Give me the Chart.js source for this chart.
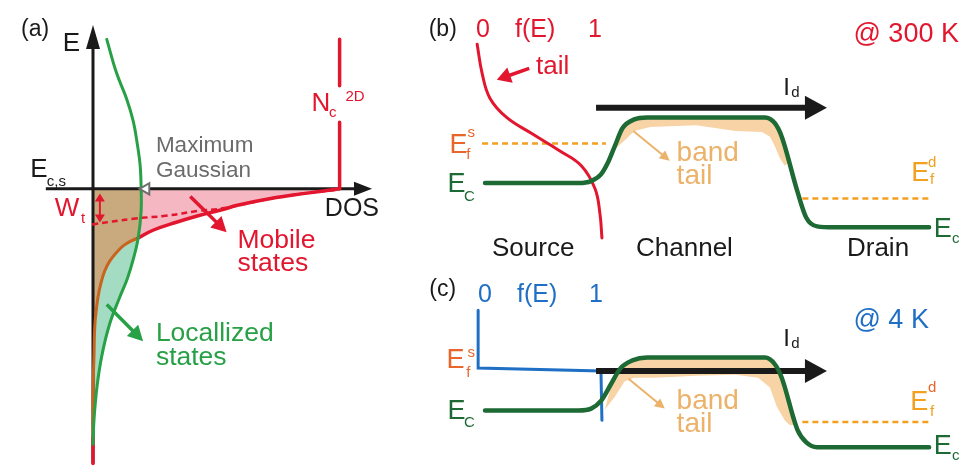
<!DOCTYPE html>
<html lang="en">
<head>
<meta charset="UTF-8">
<title>Band tail schematic</title>
<script src="https://cdn.jsdelivr.net/npm/chart.js"></script>
<style>
  html, body { margin: 0; padding: 0; background: #fff; overflow: hidden; }
  canvas { display: block; }
</style>
</head>
<body>
<canvas id="chart" width="972" height="474"></canvas>
<script>
// ---- panel (a): density of states ----
const gaussA = [[100,32],[110,67],[120,93],[127,117],[131,140],[134,163],[135,187],[135,210],[132,238],[127,260],[121,280],[113,300],[103,327],[95,360],[90,393],[87,427],[86,452]];
const mobileA = [[337,187],[300,192],[267,197],[233,204],[220,208],[193,215],[170,222],[147,230],[132,238]];
const tailOrangeA = [[132,238],[125,241],[117,246],[110,253],[103,262],[98,272],[94,285],[91,300],[88,327],[87,360],[86,400],[86,445]];
const tailRedA = [[86,445],[86,472]];
const wtLineA = [[85,224],[127,218],[160,215],[193,210],[220,207],[267,197],[300,192],[335,188]];
const ncTopA = [[337,32],[337,80]];
const ncBottomA = [[337,118],[337,187]];
const eAxisA = [[86,472],[86,17]];
const dosAxisA = [[38,187],[370,187]];
const maxGaussA = [[140,187]];
const pinkA = [[135,187],[337,187],[300,192],[267,197],[233,204],[220,208],[193,215],[170,222],[147,230],[132,238],[134,224],[135,210],[135,187]];
const tanA = [[86,187],[135,187],[135,210],[134,224],[132,238],[125,241],[117,246],[110,253],[103,262],[98,272],[94,285],[91,300],[88,327],[87,360],[86,400],[86,445],[86,187]];
const mintA = [[132,238],[125,241],[117,246],[110,253],[103,262],[98,272],[94,285],[91,300],[88,327],[87,360],[86,400],[86,445],[86,452],[87,427],[90,393],[95,360],[103,327],[113,300],[121,280],[127,260],[132,238]];

// ---- panel (b): 300 K ----
const fermiB = [[477,37],[482,67],[490,93],[507,113],[533,130],[560,147],[583,163],[597,187],[602,213],[604,238]];
const ecB = [[485,181],[580,181],[593,179],[603,172],[610,160],[617,143],[625,124],[637,115],[650,113],[770,113],[780,119],[787,133],[803,190],[812,217],[823,226],[840,227],[937,227]];
const efSourceB = [[482,140],[608,140]];
const efDrainB = [[808,197],[938,197]];
const bandTailB = [[615,148],[625,123],[637,115],[650,113],[770,113],[780,120],[787,133],[794,160],[790,163],[785,155],[780,143],[775,133],[767,128],[740,127],[700,121],[680,122],[653,123],[637,127],[627,137],[615,148]];
const currentB = [[598,103],[833,103]];

// ---- panel (c): 4 K ----
const fermiC = [[478,313],[478,373],[603,376],[604,427]];
const ecC = [[485,417],[580,417],[593,415],[603,407],[613,390],[623,373],[635,365],[650,362],[770,362],[780,369],[787,383],[803,437],[812,450],[823,455],[840,455],[937,455]];
const efDrainC = [[808,429],[938,429]];
const bandTailC = [[607,416],[613,392],[623,373],[635,365],[650,362],[770,362],[780,370],[787,383],[800,432],[795,432],[790,427],[782,413],[775,393],[763,383],[740,380],[700,381],[680,382],[657,383],[637,383],[627,387],[617,403],[607,416]];
const currentC = [[598,376],[833,376]];

// ---- pointer arrows ----
const wtArrow = [[93,192],[93,222]];
const mobileArrow = [[185,195],[222,232]];
const localArrow = [[100,307],[137,345]];
const tailArrow = [[530,62],[497,74]];
const bandArrowB = [[636,127],[673,158]];
const bandArrowC = [[631,384],[668,415]];

const RED = '#e2162e', GREEN = '#27a046', DKGREEN = '#1d6a34', ORANGE = '#f2a020',
      BLUE = '#1f6fc5', PEACH = '#f8d3a6', PEACHTXT = '#ecb26a', EFS = '#e8662c', BLACK = '#1a1a1a';

const labels = [
  {t:'(a)', x:27, y:22, s:23},
  {t:'E', x:64, y:37, s:26},
  {t:'E', x:31, y:167, s:26}, {t:'c,s', x:39, y:180, s:15, a:'left'},
  {t:'Maximum', x:150, y:142, s:22.5, c:'#6b6b6b', a:'left'},
  {t:'Gaussian', x:150, y:168, s:22.5, c:'#6b6b6b', a:'left'},
  {t:'N', x:318, y:99, s:26, c:RED}, {t:'c', x:330, y:108, s:15, c:RED}, {t:'2D', x:343, y:92, s:15, c:RED, a:'left'},
  {t:'W', x:47, y:208, s:26, c:RED, a:'left'}, {t:'t', x:76, y:218, s:15, c:RED},
  {t:'DOS', x:322, y:208, s:25, a:'left'},
  {t:'Mobile', x:233, y:241, s:26.5, c:RED, a:'left'}, {t:'states', x:233, y:265, s:26.5, c:RED, a:'left'},
  {t:'Locallized', x:150, y:337, s:26.5, c:GREEN, a:'left'}, {t:'states', x:150, y:362, s:26.5, c:GREEN, a:'left'},

  {t:'(b)', x:442, y:22, s:23},
  {t:'0', x:483, y:22, s:25, c:RED}, {t:'f(E)', x:536, y:22, s:25, c:RED}, {t:'1', x:597, y:22, s:25, c:RED},
  {t:'tail', x:537, y:61, s:26, c:RED, a:'left'},
  {t:'E', x:458, y:142, s:27, c:EFS}, {t:'s', x:471, y:129, s:15, c:EFS}, {t:'f', x:468, y:152, s:15, c:EFS},
  {t:'E', x:456, y:183, s:27, c:DKGREEN}, {t:'C', x:469, y:195, s:15, c:DKGREEN},
  {t:'band', x:680, y:150, s:28, c:PEACHTXT, a:'left'}, {t:'tail', x:680, y:174, s:28, c:PEACHTXT, a:'left'},
  {t:'I', x:792, y:83, s:24}, {t:'d', x:801, y:88, s:15},
  {t:'@ 300 K', x:860, y:27, s:27, c:RED, a:'left'},
  {t:'E', x:928, y:171, s:27, c:ORANGE}, {t:'d', x:940, y:160, s:15, c:ORANGE}, {t:'f', x:940, y:178, s:15, c:ORANGE},
  {t:'E', x:951, y:229, s:27, c:DKGREEN}, {t:'c', x:964, y:239, s:15, c:DKGREEN},
  {t:'Source', x:534, y:249, s:26}, {t:'Channel', x:688, y:249, s:26}, {t:'Drain', x:885, y:249, s:26},

  {t:'(c)', x:442, y:292, s:23},
  {t:'0', x:485, y:297, s:25, c:BLUE}, {t:'f(E)', x:538, y:297, s:25, c:BLUE}, {t:'1', x:598, y:297, s:25, c:BLUE},
  {t:'E', x:455, y:365, s:27, c:EFS}, {t:'s', x:471, y:357, s:15, c:EFS}, {t:'f', x:468, y:378, s:15, c:EFS},
  {t:'E', x:456, y:418, s:27, c:DKGREEN}, {t:'C', x:469, y:430, s:15, c:DKGREEN},
  {t:'band', x:680, y:407, s:28, c:PEACHTXT, a:'left'}, {t:'tail', x:680, y:431, s:28, c:PEACHTXT, a:'left'},
  {t:'I', x:792, y:343, s:24}, {t:'d', x:801, y:348, s:15},
  {t:'@ 4 K', x:860, y:324, s:27, c:BLUE, a:'left'},
  {t:'E', x:927, y:409, s:27, c:ORANGE}, {t:'d', x:940, y:393, s:15, c:EFS}, {t:'f', x:940, y:418, s:15, c:ORANGE},
  {t:'E', x:951, y:454, s:27, c:DKGREEN}, {t:'c', x:964, y:464, s:15, c:DKGREEN}
];

const pts = a => a.map(([x, y]) => ({x, y}));

function curve(arr, color, width, extra) {
  return Object.assign({
    data: pts(arr), showLine: true, borderColor: color, borderWidth: width,
    pointRadius: 0, fill: false, tension: 0.4,
    borderCapStyle: 'round', borderJoinStyle: 'round'
  }, extra || {});
}
function area(arr, color) {
  return {data: pts(arr), showLine: true, borderColor: 'transparent', borderWidth: 0,
          backgroundColor: color, fill: 'shape', pointRadius: 0, tension: 0};
}
function arrow(arr, color, width, len, half, both) {
  return curve(arr, color, width, {tension: 0, borderCapStyle: 'butt', head: {len, half, both: !!both}});
}

// first dataset is drawn on top
const datasets = [
  {data: pts(maxGaussA), showLine: false, pointStyle: 'triangle', rotation: -90, pointRadius: 6.5,
   pointBackgroundColor: '#fff', pointBorderColor: '#6e6e6e', pointBorderWidth: 2},
  arrow(wtArrow, RED, 2, 8, 5, true),
  arrow(mobileArrow, RED, 3.5, 15, 8),
  arrow(localArrow, GREEN, 3.5, 15, 8),
  arrow(tailArrow, RED, 3.5, 14, 8),
  arrow(bandArrowB, PEACHTXT, 2, 10, 5),
  arrow(bandArrowC, PEACHTXT, 2, 10, 5),
  curve(gaussA, GREEN, 3),
  curve(wtLineA, RED, 2.5, {borderDash: [6, 4], borderCapStyle: 'butt'}),
  curve(mobileA, RED, 3.5),
  curve(tailOrangeA, '#c8641e', 3),
  curve(tailRedA, RED, 3.5, {tension: 0}),
  curve(ncTopA, RED, 3.5, {tension: 0, borderCapStyle: 'butt'}),
  curve(ncBottomA, RED, 3.5, {tension: 0, borderCapStyle: 'butt'}),
  arrow(eAxisA, BLACK, 3, 24, 7),
  arrow(dosAxisA, BLACK, 3, 18, 7),
  curve(ecB, DKGREEN, 4.5, {cubicInterpolationMode: 'monotone'}),
  curve(ecC, DKGREEN, 4.5, {cubicInterpolationMode: 'monotone'}),
  arrow(currentB, BLACK, 6, 22, 12),
  arrow(currentC, BLACK, 6, 22, 12),
  curve(fermiB, RED, 3),
  curve(fermiC, BLUE, 3, {tension: 0, borderJoinStyle: 'miter'}),
  curve(efSourceB, ORANGE, 2.5, {tension: 0, borderDash: [6, 4], borderCapStyle: 'butt'}),
  curve(efDrainB, ORANGE, 2.5, {tension: 0, borderDash: [6, 4], borderCapStyle: 'butt'}),
  curve(efDrainC, ORANGE, 2.5, {tension: 0, borderDash: [6, 4], borderCapStyle: 'butt'}),
  area(bandTailB, PEACH),
  area(bandTailC, PEACH),
  area(pinkA, '#f5b7c1'),
  area(mintA, '#a3dcc2'),
  area(tanA, '#c9aa7e')
];

// arrow heads: pull the shaft back a little and draw a filled head at the tip
const tips = {};
const arrowHeads = {
  id: 'arrowHeads',
  afterDatasetsUpdate(chart) {
    chart.data.datasets.forEach((ds, i) => {
      if (!ds.head) return;
      const p = chart.getDatasetMeta(i).data;
      const pull = (a, b) => {
        const dx = b.x - a.x, dy = b.y - a.y, d = Math.hypot(dx, dy);
        const tip = {x: a.x, y: a.y, ang: Math.atan2(a.y - b.y, a.x - b.x)};
        a.x += dx / d * ds.head.len * 0.6;
        a.y += dy / d * ds.head.len * 0.6;
        return tip;
      };
      tips[i] = [pull(p[p.length - 1], p[p.length - 2])];
      if (ds.head.both) tips[i].push(pull(p[0], p[1]));
    });
  },
  afterDatasetsDraw(chart) {
    const ctx = chart.ctx;
    chart.data.datasets.forEach((ds, i) => {
      if (!ds.head || !tips[i]) return;
      tips[i].forEach(t => {
        ctx.save();
        ctx.translate(t.x, t.y);
        ctx.rotate(t.ang);
        ctx.beginPath();
        ctx.moveTo(0, 0);
        ctx.lineTo(-ds.head.len, -ds.head.half);
        ctx.lineTo(-ds.head.len, ds.head.half);
        ctx.closePath();
        ctx.fillStyle = ds.borderColor;
        ctx.fill();
        ctx.restore();
      });
    });
  }
};

// text labels placed through the scales
const textLabels = {
  id: 'textLabels',
  afterDraw(chart) {
    const ctx = chart.ctx, sx = chart.scales.x, sy = chart.scales.y;
    ctx.save();
    ctx.textBaseline = 'middle';
    labels.forEach(l => {
      ctx.font = l.s + 'px "Liberation Sans", Arial, sans-serif';
      ctx.fillStyle = l.c || BLACK;
      ctx.textAlign = l.a || 'center';
      ctx.fillText(l.t, sx.getPixelForValue(l.x), sy.getPixelForValue(l.y));
    });
    ctx.restore();
  }
};

new Chart(document.getElementById('chart'), {
  type: 'scatter',
  data: {datasets},
  options: {
    responsive: false,
    devicePixelRatio: 1,
    animation: false,
    events: [],
    layout: {padding: 0},
    plugins: {legend: {display: false}, tooltip: {enabled: false}},
    scales: {
      x: {type: 'linear', min: 0, max: 972, display: false},
      y: {type: 'linear', min: 0, max: 474, reverse: true, display: false}
    }
  },
  plugins: [arrowHeads, textLabels]
});
</script>
</body>
</html>
